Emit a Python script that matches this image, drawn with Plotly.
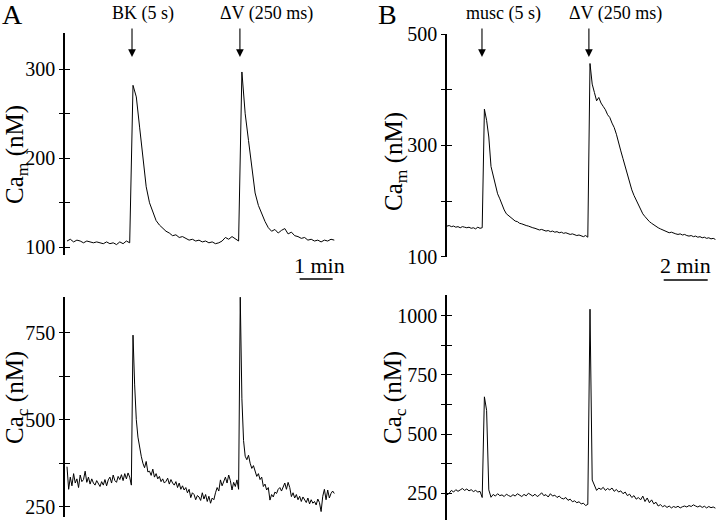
import plotly.graph_objects as go

# ---------------- data ----------------
# Panel A, mitochondrial Ca (nM), sampled every 0.1 min
cam_a = [107, 109, 106, 108, 107, 105, 107, 106, 105, 106,
         105, 104, 106, 104, 105, 103, 106, 104, 107, 105,
         282, 269, 235, 202, 168, 150, 140, 130, 125, 121,
         118, 116, 113, 114, 111, 112, 110, 108, 109, 107,
         108, 106, 107, 105, 106, 104, 105, 107, 111, 109,
         112, 109, 107, 297, 250, 220, 190, 161, 147, 137,
         129, 122, 118, 120, 116, 119, 121, 115, 117, 113,
         112, 110, 111, 108, 109, 107, 108, 106, 108, 107,
         109, 108]
# Panel A, cytosolic Ca (nM), sampled every 0.05 min
cac_a = [365, 300, 335, 310, 345, 318, 330, 305, 341, 322,
         328, 352, 320, 335, 315, 330, 318, 312, 325, 318,
         308, 322, 312, 328, 310, 327, 335, 318, 341, 325,
         320, 337, 328, 342, 325, 345, 330, 347, 335, 312,
         743, 600, 500, 450, 415, 395, 375, 362, 380, 350,
         352, 340, 358, 335, 345, 330, 337, 322, 330, 318,
         323, 332, 315, 328, 318, 312, 322, 305, 318, 300,
         310, 298, 305, 290, 300, 276, 290, 285, 270, 282,
         278, 268, 290, 272, 285, 265, 280, 260, 275, 270,
         290, 305, 295, 327, 310, 322, 335, 318, 341, 325,
         298, 320, 308, 327, 300, 852, 560, 440, 395, 385,
         398, 375, 360, 368, 350, 337, 345, 328, 335, 308,
         315, 298, 305, 269, 285, 278, 292, 288, 300, 305,
         295, 310, 318, 300, 320, 305, 279, 290, 275, 285,
         270, 280, 265, 278, 269, 262, 275, 258, 270, 260,
         265, 255, 272, 262, 236, 280, 300, 270, 298, 275,
         288, 295, 288]
# Panel B, mitochondrial Ca (nM), sampled every 0.1 min
cam_b = [155, 156, 154, 155, 153, 154, 152, 154, 153, 152,
         153, 151, 152, 150, 153, 151, 152, 365, 345, 315,
         262, 244, 228, 213, 204, 192, 184, 177, 174, 170,
         167, 164, 163, 160, 159, 157, 156, 155, 153, 152,
         151, 150, 148, 149, 147, 146, 147, 145, 146, 144,
         145, 143, 144, 142, 143, 141, 140, 141, 139, 138,
         139, 137, 136, 138, 135, 447, 410, 395, 380, 386,
         376, 370, 364, 355, 350, 340, 332, 320, 302, 290,
         276, 262, 246, 233, 220, 210, 201, 192, 183, 177,
         172, 167, 163, 160, 157, 154, 152, 150, 148, 146,
         145, 143, 144, 142, 141, 140, 141, 139, 140, 138,
         137, 138, 136, 137, 135, 136, 134, 135, 133, 134,
         132, 133, 131]
# Panel B, cytosolic Ca (nM), sampled every 0.1 min
cac_b = [243, 250, 262, 255, 265, 258, 264, 270, 262, 268,
         260, 265, 257, 262, 255, 258, 232, 657, 600, 264,
         233, 245, 238, 248, 240, 243, 236, 246, 240, 236,
         244, 238, 248, 241, 236, 245, 239, 250, 242, 238,
         246, 236, 242, 252, 240, 244, 234, 248, 238, 242,
         232, 238, 229, 226, 232, 220, 225, 214, 218, 210,
         214, 205, 208, 198, 203, 1027, 306, 280, 262, 272,
         266, 275, 262, 270, 264, 272, 258, 266, 255, 260,
         248, 255, 240, 246, 232, 240, 225, 232, 222, 238,
         215, 230, 210, 222, 205, 212, 196, 202, 193, 198,
         190, 196, 188, 194, 190, 195, 188, 193, 196, 192,
         198, 194, 201, 196, 192, 197, 190, 195, 188, 194,
         189, 192, 187]

dt_cam_a, dt_cac_a, dt_b = 0.1, 0.05, 0.1
t_cam_a = [round(i * dt_cam_a, 3) for i in range(len(cam_a))]
t_cac_a = [round(i * dt_cac_a, 3) for i in range(len(cac_a))]
t_cam_b = [round(i * dt_b, 3) for i in range(len(cam_b))]
t_cac_b = [round(i * dt_b, 3) for i in range(len(cac_b))]

# stimuli (min) and labels
stim_a = [1.97, 5.24]
stim_b = [1.59, 6.45]
stim_labels_a = ["BK (5 s)", "ΔV (250 ms)"]
stim_labels_b = ["musc (5 s)", "ΔV (250 ms)"]

ticks_cam_a, minor_cam_a = [100, 200, 300], [150, 250]
ticks_cac_a, minor_cac_a = [250, 500, 750], [375, 625]
ticks_cam_b, minor_cam_b = [100, 300, 500], [200, 400]
ticks_cac_b, minor_cac_b = [250, 500, 750, 1000], [375, 625, 875]

# ---------------- figure ----------------
W, H = 720, 520
FONT = "Liberation Serif"


def px(p):
    return p / W


def py(p):
    return 1 - p / H


line = dict(color="black", width=1.0)
fig = go.Figure()
fig.add_trace(go.Scatter(x=t_cam_a, y=cam_a, mode="lines", line=line, xaxis="x", yaxis="y"))
fig.add_trace(go.Scatter(x=t_cac_a, y=cac_a, mode="lines", line=line, xaxis="x2", yaxis="y2"))
fig.add_trace(go.Scatter(x=t_cam_b, y=cam_b, mode="lines", line=line, xaxis="x3", yaxis="y3"))
fig.add_trace(go.Scatter(x=t_cac_b, y=cac_b, mode="lines", line=line, xaxis="x4", yaxis="y4"))
# empty traces so the overlay (inside-tick) axes are drawn
for xa, ya in [("x", "y5"), ("x2", "y6"), ("x3", "y7"), ("x4", "y8")]:
    fig.add_trace(go.Scatter(x=[], y=[], mode="lines", xaxis=xa, yaxis=ya, hoverinfo="skip"))

xa_dom = [px(65), px(345)]
xa_rng = [-2 / 33, (345 - 67) / 33]
xb_dom = [px(447), px(718)]
xb_rng = [0, (718 - 447) / 22]


def xax(dom, rng, anchor):
    return dict(domain=dom, range=rng, visible=False, anchor=anchor, fixedrange=True)


def yax(dom, rng, anchor, major, minor):
    return dict(domain=dom, range=rng, anchor=anchor, showline=True, linecolor="black",
                linewidth=1.5, showgrid=False, zeroline=False, tickmode="array",
                tickvals=major, ticktext=[str(v) for v in major], ticks="outside",
                ticklen=4, tickwidth=1.3, tickcolor="black",
                tickfont=dict(family=FONT, size=20, color="black"),
                minor=dict(tickvals=minor, ticks="outside", ticklen=4, tickwidth=1.3,
                           tickcolor="black", showgrid=False),
                automargin=False, fixedrange=True)


def yin(over, dom, rng, anchor, major, minor):
    return dict(overlaying=over, domain=dom, range=rng, anchor=anchor, side="left",
                showline=False, showgrid=False, zeroline=False, tickmode="array",
                tickvals=major + minor, ticks="inside", ticklen=5, tickwidth=1.3,
                tickcolor="black", showticklabels=False, automargin=False,
                fixedrange=True)


dA1, rA1 = [py(255), py(33)], [91.3, 340.8]
dA2, rA2 = [py(517), py(297)], [220.4, 852.6]
dB1, rB1 = [py(256.7), py(34)], [100, 500]
dB2, rB2 = [0, py(295)], [137, 1087]

fig.update_layout(
    width=W, height=H, margin=dict(l=0, r=0, t=0, b=0),
    paper_bgcolor="white", plot_bgcolor="white", showlegend=False,
    xaxis=xax(xa_dom, xa_rng, "y"),
    xaxis2=xax(xa_dom, xa_rng, "y2"),
    xaxis3=xax(xb_dom, xb_rng, "y3"),
    xaxis4=xax(xb_dom, xb_rng, "y4"),
    yaxis=yax(dA1, rA1, "x", ticks_cam_a, minor_cam_a),
    yaxis2=yax(dA2, rA2, "x2", ticks_cac_a, minor_cac_a),
    yaxis3=yax(dB1, rB1, "x3", ticks_cam_b, minor_cam_b),
    yaxis4=yax(dB2, rB2, "x4", ticks_cac_b, minor_cac_b),
    yaxis5=yin("y", dA1, rA1, "x", ticks_cam_a, minor_cam_a),
    yaxis6=yin("y2", dA2, rA2, "x2", ticks_cac_a, minor_cac_a),
    yaxis7=yin("y3", dB1, rB1, "x3", ticks_cam_b, minor_cam_b),
    yaxis8=yin("y4", dB2, rB2, "x4", ticks_cac_b, minor_cac_b),
)

ann = []


def text(x, y, s, size, angle=0):
    ann.append(dict(x=px(x), y=py(y), xref="paper", yref="paper", text=s, showarrow=False,
                    textangle=angle, xanchor="center", yanchor="middle",
                    font=dict(family=FONT, size=size, color="black")))


# panel letters
text(12, 14, "A", 28)
text(387, 14, "B", 28)
# axis titles
text(16, 155, "Ca<sub>m</sub> (nM)", 25, -90)
text(16, 398, "Ca<sub>c</sub> (nM)", 25, -90)
text(395, 162, "Ca<sub>m</sub> (nM)", 25, -90)
text(394, 398, "Ca<sub>c</sub> (nM)", 25, -90)
# stimulus labels
text(143, 13, stim_labels_a[0], 18)
text(266, 13, stim_labels_a[1], 18)
text(504, 13, stim_labels_b[0], 18)
text(615, 13, stim_labels_b[1], 18)
# scale labels
text(319, 265, "1 min", 22)
text(685, 265, "2 min", 22)

# arrows
for t in stim_a:
    ann.append(dict(x=t, y=py(57), xref="x", yref="paper", text="", showarrow=True,
                    ax=0, ay=-30, arrowhead=2, arrowsize=1.4, arrowwidth=1.1,
                    arrowcolor="black"))
for t in stim_b:
    ann.append(dict(x=t, y=py(57), xref="x3", yref="paper", text="", showarrow=True,
                    ax=0, ay=-30, arrowhead=2, arrowsize=1.4, arrowwidth=1.1,
                    arrowcolor="black"))
fig.update_layout(annotations=ann)

# scale bars (1 min in A, 2 min in B)
fig.add_shape(type="line", xref="x", yref="paper", x0=7.05, x1=8.05, y0=py(279), y1=py(279),
              line=dict(color="black", width=1.5))
fig.add_shape(type="line", xref="x3", yref="paper", x0=9.85, x1=11.85, y0=py(280), y1=py(280),
              line=dict(color="black", width=1.5))

fig.write_html("out.html", config={"displayModeBar": False},
               post_script="document.body.style.margin='0';")
